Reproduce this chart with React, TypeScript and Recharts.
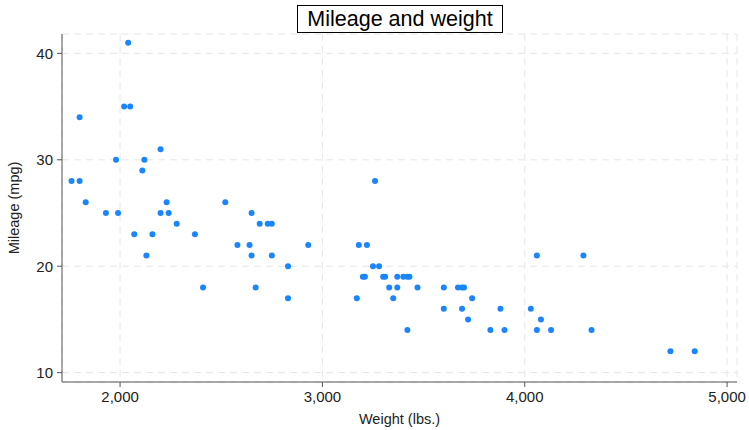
import React from "react";
import {
  CartesianGrid,
  Scatter,
  ScatterChart,
  XAxis,
  YAxis,
} from "recharts";

// auto dataset: weight (lbs.) and mileage (mpg), one entry per car
const weight = [
  2930, 3350, 2640, 3250, 4080, 3670, 2230, 3280, 3880, 3400, 4330, 3900, 4290,
  2110, 3690, 3180, 3220, 2750, 3430, 2120, 3600, 3600, 3740, 1800, 2650, 4840,
  4720, 3830, 2580, 4060, 3720, 3370, 4130, 2830, 4060, 3310, 3300, 3690, 3370,
  2730, 4030, 3260, 1800, 2200, 2520, 3330, 3700, 3470, 3210, 3200, 3420, 2690,
  2830, 2070, 2650, 2370, 2020, 2280, 2750, 2130, 2240, 1760, 1980, 3420, 1830,
  2050, 2410, 2200, 2670, 2160, 2040, 1930, 1990, 3170,
];
const mpg = [
  22, 17, 22, 20, 15, 18, 26, 20, 16, 19, 14, 14, 21, 29, 16, 22, 22, 24, 19,
  30, 18, 16, 17, 28, 21, 12, 12, 14, 22, 14, 15, 18, 14, 20, 21, 19, 19, 18,
  19, 24, 16, 28, 34, 25, 26, 18, 18, 18, 19, 19, 19, 24, 17, 23, 25, 23, 35,
  24, 21, 21, 25, 28, 30, 14, 26, 35, 18, 31, 18, 23, 41, 25, 25, 17,
];
const xTicks = [2000, 3000, 4000, 5000];
const yTicks = [10, 20, 30, 40];

const points = weight.map((w, i) => ({ weight: w, mpg: mpg[i] }));

const axisColor = "#555";
const dotColor = "#1a85ff";
const font = "Liberation Sans, Arial, sans-serif";

export default function App() {
  return (
    <div
      style={{
        position: "absolute",
        left: 0,
        top: 0,
        width: 749,
        height: 430,
        background: "#fff",
        fontFamily: font,
      }}
    >
      <ScatterChart
        width={749}
        height={430}
        margin={{ top: 34, right: 12, left: 0, bottom: 0 }}
      >
        <CartesianGrid
          stroke="#e6e6e6"
          strokeDasharray="7 5"
          strokeWidth={1}
        />
        <XAxis
          type="number"
          dataKey="weight"
          domain={[1713, 5049]}
          ticks={xTicks}
          allowDataOverflow
          height={48}
          tickSize={5}
          tickMargin={4}
          stroke={axisColor}
          tick={{ fill: "#222", fontSize: 15, fontFamily: font }}
          tickFormatter={(v: number) => v.toLocaleString("en-US")}
          label={{
            value: "Weight (lbs.)",
            position: "insideBottom",
            offset: 6,
            fill: "#222",
            fontSize: 14.5,
            fontFamily: font,
          }}
        />
        <YAxis
          type="number"
          dataKey="mpg"
          domain={[9.12, 41.82]}
          ticks={yTicks}
          allowDataOverflow
          width={62}
          tickSize={5}
          tickMargin={4}
          stroke={axisColor}
          tick={{ fill: "#222", fontSize: 15, fontFamily: font }}
          label={{
            value: "Mileage (mpg)",
            angle: -90,
            position: "insideLeft",
            offset: 14,
            style: { textAnchor: "middle" },
            fill: "#222",
            fontSize: 14.5,
            fontFamily: font,
          }}
        />
        <Scatter
          data={points}
          fill={dotColor}
          isAnimationActive={false}
          shape={(p: any) => (
            <circle cx={p.cx} cy={p.cy} r={3} fill={dotColor} />
          )}
        />
      </ScatterChart>
      <div
        style={{
          position: "absolute",
          left: 297,
          top: 5,
          width: 204,
          height: 26,
          border: "1px solid #000",
          textAlign: "center",
          fontSize: 21.5,
          lineHeight: "26px",
          color: "#000",
          whiteSpace: "nowrap",
        }}
      >
        Mileage and weight
      </div>
    </div>
  );
}
